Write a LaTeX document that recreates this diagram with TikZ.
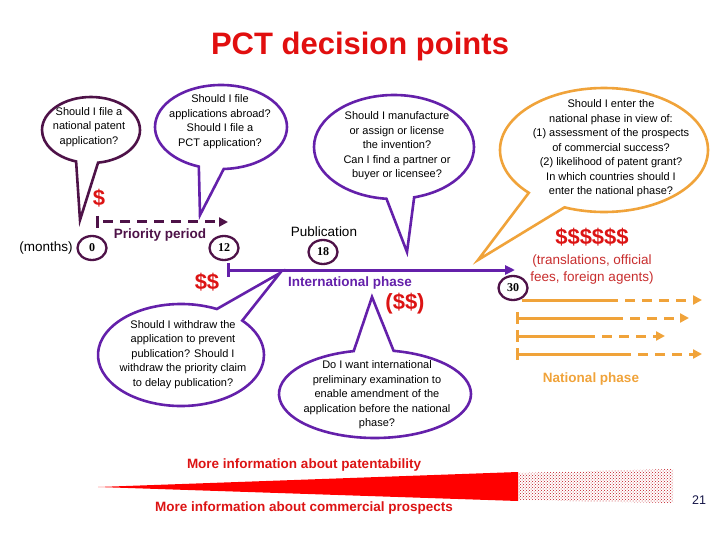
\documentclass[tikz,border=0pt]{standalone}
\usepackage{fontspec}
\setmainfont{Liberation Sans}
\newfontfamily\numfont{Liberation Serif}
\usetikzlibrary{shapes.callouts,shapes.geometric,arrows.meta,patterns}
\definecolor{titlered}{RGB}{225,15,15}
\definecolor{dred}{RGB}{220,20,20}
\definecolor{tred}{RGB}{200,45,45}
\definecolor{maroon}{RGB}{78,18,72}
\definecolor{ppurple}{RGB}{100,32,170}
\definecolor{orng}{RGB}{240,163,58}
\definecolor{navy}{RGB}{20,20,70}
\definecolor{dotred}{RGB}{190,20,30}
\begin{document}
\begin{tikzpicture}[x=1pt,y=-1pt,
  bubble/.style={ellipse callout, draw, line width=2.6pt, inner sep=0pt},
  btext/.style={align=center, font=\fontsize{11}{14.5}\selectfont, inner sep=0pt},
  monthnum/.style={ellipse, draw=maroon, line width=2.3pt, minimum width=29pt, minimum height=24pt, inner sep=0pt, font=\numfont\bfseries\fontsize{12}{13}\selectfont},
  lbl/.style={font=\fontsize{13.5}{16}\selectfont, inner sep=0pt},
  blbl/.style={font=\bfseries\fontsize{13.5}{16}\selectfont, inner sep=0pt},
  money/.style={font=\bfseries\fontsize{22}{24}\selectfont, text=dred, inner sep=0pt},
  mline/.style={line width=3pt, line cap=butt},
  tipA/.style={-{Triangle[length=9pt,width=9pt]}},
  dsh/.style={dash pattern=on 10pt off 7pt},
]
\useasboundingbox (0,0) rectangle (720,540);

% title
\node[font=\bfseries\fontsize{31}{36}\selectfont, text=titlered, inner sep=0pt, anchor=base] (title) at (360,55) {PCT decision points};

% pointer targets
\coordinate (p1) at (80,220);
\coordinate (p2) at (200,215);
\coordinate (p3) at (407,252);
\coordinate (p4) at (478,260);
\coordinate (p5) at (280,273);
\coordinate (p6) at (372,297);

% bubbles
\node[bubble, draw=maroon, minimum width=98pt, minimum height=66pt, callout absolute pointer={(p1)}, callout pointer arc=26] (b1) at (91,130) {};
\node[btext] (t1) at (89,127) {Should I file a\\national patent\\application?};

\node[bubble, draw=ppurple, minimum width=132pt, minimum height=84pt, callout absolute pointer={(p2)}, callout pointer arc=22] (b2) at (221,127) {};
\node[btext] (t2) at (220,121.5) {Should I file\\applications abroad?\\Should I file a\\PCT application?};

\node[bubble, draw=ppurple, minimum width=160pt, minimum height=104pt, callout absolute pointer={(p3)}, callout pointer arc=20] (b3) at (394,147) {};
\node[btext] (t3) at (397,146) {Should I manufacture\\or assign or license\\the invention?\\Can I find a partner or\\buyer or licensee?};

\node[bubble, draw=orng, minimum width=208pt, minimum height=124pt, callout absolute pointer={(p4)}, callout pointer arc=24] (b4) at (604,150) {};
\node[btext] (t4) at (611,148.5) {Should I enter the\\national phase in view of:\\(1) assessment of the prospects\\of commercial success?\\(2) likelihood of patent grant?\\In which countries should I\\enter the national phase?};

\node[bubble, draw=ppurple, minimum width=166pt, minimum height=102pt, callout absolute pointer={(p5)}, callout pointer arc=22] (b5) at (181,355) {};
\node[btext] (t5) at (183,354.5) {Should I withdraw the\\application to prevent\\publication? Should I\\withdraw the priority claim\\to delay publication?};

\node[bubble, draw=ppurple, minimum width=192pt, minimum height=88pt, callout absolute pointer={(p6)}, callout pointer arc=24] (b6) at (375,394) {};
\node[btext] (t6) at (377,395) {Do I want international\\preliminary examination to\\enable amendment of the\\application before the national\\phase?};

% timeline labels
\node[lbl] (months) at (46,248) {(months)};
\node[monthnum] (m0) at (92,248) {0};
\node[monthnum] (m12) at (224,248) {12};
\node[monthnum] (m18) at (323,252) {18};
\node[monthnum] (m30) at (513,288) {30};

% priority period
\node[money] (d1) at (99,198) {\$};
\coordinate (pr0) at (97,222);
\coordinate (pr1) at (103,222);
\coordinate (pr2) at (228,222);
\draw[maroon, mline] (pr0) ++(0,-6) -- ++(0,12);
\draw[maroon, mline, dsh, tipA] (pr1) -- (pr2);
\node[blbl, text=maroon] (prio) at (160,235) {Priority period};

% international phase
\node[lbl] (pub) at (324,232) {Publication};
\coordinate (ip0) at (228,270);
\coordinate (ip1) at (515,270);
\draw[ppurple, mline] (ip0) ++(0,-7) -- ++(0,14);
\draw[ppurple, mline, -{Triangle[length=10pt,width=9pt]}] (ip0) -- (ip1);
\node[blbl, text=ppurple] (intl) at (350,283) {International phase};
\node[money] (d2) at (207,282) {\$\$};
\node[money] (d3) at (405,304) {(\$\$)};

% national phase
\node[money] (d6) at (592,237) {\$\$\$\$\$\$};
\node[lbl, text=tred, align=center, font=\fontsize{13.5}{17}\selectfont] (fees) at (592,269.5) {(translations, official\\fees, foreign agents)};

\coordinate (n1a) at (522,300); \coordinate (n1b) at (618,300); \coordinate (n1c) at (625,300); \coordinate (n1d) at (702,300);
\coordinate (n2a) at (517,318); \coordinate (n2b) at (623,318); \coordinate (n2c) at (630,318); \coordinate (n2d) at (689,318);
\coordinate (n3a) at (517,336); \coordinate (n3b) at (595,336); \coordinate (n3c) at (602,336); \coordinate (n3d) at (665,336);
\coordinate (n4a) at (517,354); \coordinate (n4b) at (631,354); \coordinate (n4c) at (638,354); \coordinate (n4d) at (702,354);
\draw[orng, mline] (n1a) -- (n1b);
\draw[orng, mline, dsh, tipA] (n1c) -- (n1d);
\foreach \k in {2,3,4}{
  \draw[orng, mline] (n\k a) ++(0,-6) -- ++(0,12);
  \draw[orng, mline] (n\k a) -- (n\k b);
  \draw[orng, mline, dsh, tipA] (n\k c) -- (n\k d);
}
\node[blbl, text=orng] (natl) at (591,379) {National phase};

% bottom
\node[blbl, text=dred] (pat) at (304,465) {More information about patentability};
\node[blbl, text=dred] (com) at (304,508) {More information about commercial prospects};
\fill[red] (98,487) -- (518,472) -- (518,501) -- cycle;
\fill[pattern=crosshatch dots, pattern color=dotred] (518,473) -- (673,469) -- (673,503) -- (518,500) -- cycle;
\node[font=\fontsize{12.5}{14}\selectfont, text=navy, inner sep=0pt] (pg) at (699,500) {21};
\end{tikzpicture}
\end{document}
